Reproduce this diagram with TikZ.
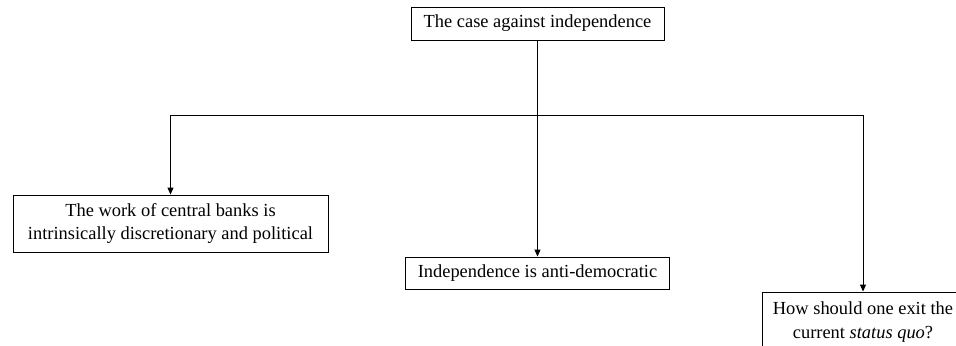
\documentclass[tikz,border=0pt]{standalone}
\usepackage{fontspec}
\setmainfont{Liberation Serif}
\usetikzlibrary{arrows.meta}

\begin{document}
\begin{tikzpicture}[x=1bp, y=-1bp,
    box/.style={draw, line width=0.9bp, align=center, inner sep=0pt,
        font=\fontsize{18.5}{24}\selectfont},
    link/.style={line width=0.9bp, -{Triangle[length=7bp,width=6bp]}}]
        % Fix the page size
        \useasboundingbox (0,0) rectangle (956,345);

        % Place the boxes
        \node[box, minimum width=253bp, minimum height=33bp] (top) at (537.5,23.5)
            {The case against independence};
        \node[box, minimum width=315bp, minimum height=57bp] (left) at (170.5,223.5)
            {The work of central banks is\\intrinsically discretionary and political};
        \node[box, minimum width=264bp, minimum height=32bp] (mid) at (537.5,273)
            {Independence is anti-democratic};
        \node[box, minimum width=201bp, minimum height=60bp] (right) at (863,322)
            {How should one exit the\\current \textit{status quo}?};

        % Branch point on the trunk
        \coordinate (fork) at (537.5,115.7);

        % Draw the connectors
        \draw[link] (top) -- (mid);
        \draw[link] (fork) -| (left);
        \draw[link] (fork) -| (right);

    \end{tikzpicture}
\end{document}
